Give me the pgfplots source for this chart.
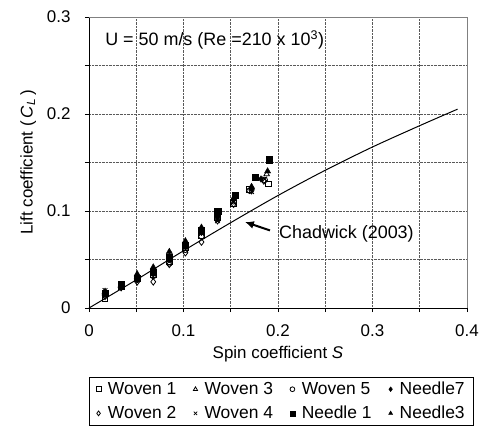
\documentclass[border=0pt]{standalone}
\usepackage{pgfplots}
\pgfplotsset{compat=1.18}
\usetikzlibrary{arrows.meta}
\usepackage{fontspec}
\setmainfont{Liberation Sans}
\begin{document}
\begin{tikzpicture}[x=1bp,y=1bp]
\begin{axis}[
  at={(0,0)}, anchor=south west,
  scale only axis, width=378bp, height=291bp,
  xmin=0, xmax=0.4, ymin=0, ymax=0.3,
  xtick={0,0.1,0.2,0.3,0.4}, ytick={0,0.1,0.2,0.3},
  xticklabels={0,0.1,0.2,0.3,0.4}, yticklabels={0,0.1,0.2,0.3},
  minor tick num=1,
  grid=both,
  major grid style={densely dotted, gray!70!black, line width=0.8pt},
  minor grid style={densely dotted, gray!70!black, line width=0.8pt},
  tick align=outside, tick pos=left,
  major tick length=4bp, minor tick length=4bp,
  axis x line*=bottom, axis y line*=left,
  axis line style={black, line width=0.8pt},
  tick style={black, line width=0.6pt},
  ticklabel style={font=\fontsize{17}{19}\selectfont},
  xticklabel style={yshift=-9bp},
  yticklabel style={xshift=-11bp},
  xlabel={Spin coefficient \textit{S}},
  ylabel={Lift coefficient (\,\textit{C}\textsubscript{\textit{L}}\,)},
  label style={font=\fontsize{17}{19}\selectfont},
  xlabel style={at={(axis description cs:0.5,0)}, anchor=center, yshift=-46bp},
  ylabel style={at={(axis description cs:-0.161,0.5)}, anchor=center},
  legend columns=4,
  legend style={at={(0.509,-0.237)}, anchor=north, draw=black, font=\fontsize{17.5}{20}\selectfont,
    /tikz/every odd column/.append style={column sep=5bp},
    /tikz/every even column/.append style={column sep=15bp},
    inner xsep=7bp, inner ysep=3bp, row sep=6bp},
  legend image post style={mark size=2.4pt},
  legend cell align=left,
  clip=false,
]
\draw[gray, line width=0.6pt] (rel axis cs:0,1) -- (rel axis cs:1,1) -- (rel axis cs:1,0);
% Chadwick curve
\addplot[black, line width=1pt, forget plot, smooth] coordinates {
(0,0) (0.05,0.029) (0.1,0.059) (0.15,0.088) (0.2,0.116) (0.25,0.142) (0.3,0.166) (0.35,0.188) (0.39,0.205)};
% Woven 1
\addplot[only marks, mark=square, mark size=2.8pt, black, thick] coordinates {
(0.017,0.010)(0.034,0.022)(0.051,0.030)(0.068,0.034)(0.085,0.048)(0.102,0.062)(0.119,0.075)(0.136,0.093)(0.153,0.108)(0.170,0.122)(0.190,0.128)};
\addlegendentry{Woven 1}
% Woven 3
\addplot[only marks, mark=triangle, mark size=3.2pt, black, thick] coordinates {
(0.017,0.016)(0.034,0.023)(0.051,0.032)(0.068,0.038)(0.085,0.053)(0.102,0.066)(0.119,0.079)(0.136,0.097)(0.153,0.113)(0.172,0.124)(0.188,0.138)};
\addlegendentry{Woven 3}
% Woven 5
\addplot[only marks, mark=o, mark size=2.8pt, black, thick] coordinates {
(0.017,0.013)(0.034,0.022)(0.051,0.029)(0.068,0.033)(0.085,0.046)(0.102,0.060)(0.119,0.074)(0.136,0.092)(0.153,0.110)(0.170,0.121)(0.186,0.132)};
\addlegendentry{Woven 5}
% Needle 7
\addplot[only marks, mark=diamond*, mark size=3.3pt, black] coordinates {
(0.017,0.014)(0.034,0.023)(0.051,0.030)(0.068,0.035)(0.085,0.050)(0.102,0.064)(0.119,0.078)(0.136,0.094)(0.153,0.112)(0.172,0.123)(0.182,0.133)};
\addlegendentry{Needle7}
% Woven 2
\addplot[only marks, mark=diamond, mark size=3.3pt, black, thick] coordinates {
(0.017,0.012)(0.034,0.021)(0.051,0.027)(0.068,0.027)(0.085,0.045)(0.102,0.057)(0.119,0.068)(0.136,0.090)(0.153,0.107)(0.172,0.121)(0.185,0.131)};
\addlegendentry{Woven 2}
% Woven 4
\addplot[only marks, mark=x, mark size=3.3pt, black, thick] coordinates {
(0.017,0.018)(0.034,0.022)(0.051,0.030)(0.068,0.036)(0.085,0.050)(0.102,0.063)(0.119,0.077)(0.136,0.090)(0.153,0.109)(0.172,0.120)(0.186,0.133)};
\addlegendentry{Woven 4}
% Needle 1
\addplot[only marks, mark=square*, mark size=3.2pt, black] coordinates {
(0.017,0.015)(0.034,0.024)(0.051,0.031)(0.068,0.037)(0.085,0.052)(0.102,0.065)(0.119,0.080)(0.136,0.100)(0.155,0.116)(0.176,0.135)(0.191,0.153)};
\addlegendentry{Needle 1}
% Needle 3
\addplot[only marks, mark=triangle*, mark size=3.6pt, black] coordinates {
(0.017,0.017)(0.034,0.023)(0.051,0.035)(0.068,0.042)(0.085,0.058)(0.102,0.069)(0.119,0.083)(0.136,0.096)(0.153,0.113)(0.172,0.125)(0.189,0.141)};
\addlegendentry{Needle3}
\node[anchor=west, font=\fontsize{18}{20}\selectfont, inner sep=0pt] at (axis cs:0.017,0.276) {U = 50 m/s (Re =210 x 10\textsuperscript{3})};
\node[anchor=west, font=\fontsize{18}{20}\selectfont, inner sep=0pt] at (axis cs:0.201,0.076) {Chadwick (2003)};
\draw[-{Latex[length=9bp,width=8bp]}, line width=2pt] (axis cs:0.1915,0.080) -- (axis cs:0.165,0.0887);
\end{axis}
\path[use as bounding box] (-89,-122) rectangle (398,308);
\end{tikzpicture}
\end{document}
